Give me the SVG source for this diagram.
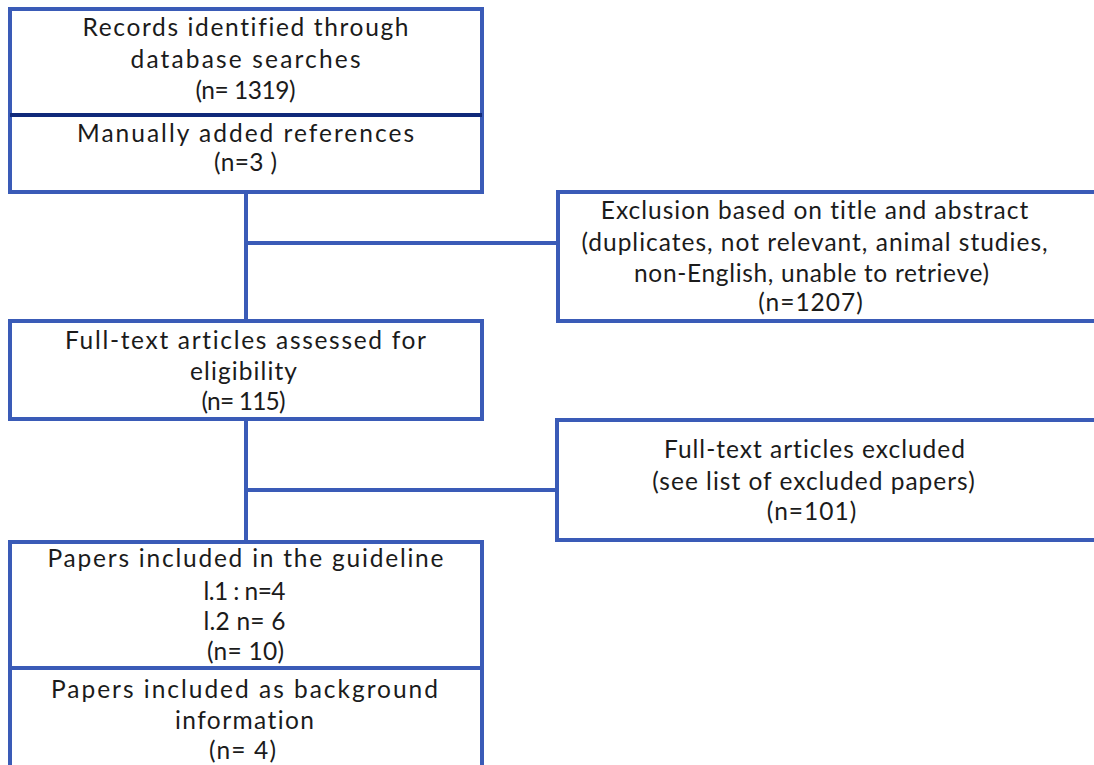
<svg xmlns="http://www.w3.org/2000/svg" width="1094" height="765" viewBox="0 0 1094 765">
  <style>
    .box { fill: #ffffff; stroke: #3a5bb7; stroke-width: 4; }
    .split { stroke: #10297a; stroke-width: 4; }
    .split2 { stroke: #3a5bb7; stroke-width: 4; }
    .link { fill: none; stroke: #3a5bb7; stroke-width: 4; }
    text { font-family: "Lato", "Open Sans", "Liberation Sans", sans-serif; font-size: 24.5px; font-weight: 400; letter-spacing: 1px; fill: #1b1b1b; text-anchor: middle; }
  </style>
  <rect width="1094" height="765" fill="#ffffff"/>

  <!-- connectors -->
  <g id="connectors">
    <line class="link" x1="246" y1="192" x2="246" y2="321"/>
    <line class="link" x1="246" y1="243" x2="558" y2="243"/>
    <line class="link" x1="246" y1="419" x2="246" y2="542"/>
    <line class="link" x1="246" y1="490" x2="557" y2="490"/>
  </g>

  <!-- identification -->
  <g id="identified">
    <rect class="box" x="10" y="9" width="472" height="183"/>
    <line class="split" x1="10" y1="115" x2="482" y2="115"/>
    <text x="246" y="36" textLength="327">Records identified through</text>
    <text x="246" y="68" textLength="231">database searches</text>
    <text x="246" y="99" textLength="101">(n= 1319)</text>
    <text x="246" y="142" textLength="338">Manually added references</text>
    <text x="246" y="171" textLength="64">(n=3 )</text>
  </g>

  <!-- screening exclusions -->
  <g id="excluded-screening">
    <rect class="box" x="558" y="192" width="600" height="129"/>
    <text x="815" y="219">Exclusion based on title and abstract</text>
    <text x="815" y="251">(duplicates, not relevant, animal studies,</text>
    <text x="812" y="282" textLength="356">non-English, unable to retrieve)</text>
    <text x="811" y="311">(n=1207)</text>
  </g>

  <!-- eligibility -->
  <g id="fulltext">
    <rect class="box" x="10" y="321" width="472" height="98"/>
    <text x="246" y="349" textLength="362">Full-text articles assessed for</text>
    <text x="244" y="380" textLength="108">eligibility</text>
    <text x="244" y="410" textLength="85">(n= 115)</text>
  </g>

  <!-- full-text exclusions -->
  <g id="excluded-fulltext">
    <rect class="box" x="557" y="420" width="600" height="120"/>
    <text x="815" y="458">Full-text articles excluded</text>
    <text x="814" y="490">(see list of excluded papers)</text>
    <text x="812" y="520">(n=101)</text>
  </g>

  <!-- included -->
  <g id="included">
    <rect class="box" x="10" y="542" width="472" height="300"/>
    <line class="split2" x1="10" y1="668" x2="482" y2="668"/>
    <text x="246" y="567" textLength="397">Papers included in the guideline</text>
    <text x="245" y="600" textLength="83">l.1 : n=4</text>
    <text x="245" y="630" textLength="83">l.2 n= 6</text>
    <text x="246" y="660" textLength="78">(n= 10)</text>
    <text x="245" y="698" textLength="388">Papers included as background</text>
    <text x="245" y="729" textLength="140">information</text>
    <text x="243" y="759" textLength="68">(n= 4)</text>
  </g>
</svg>
